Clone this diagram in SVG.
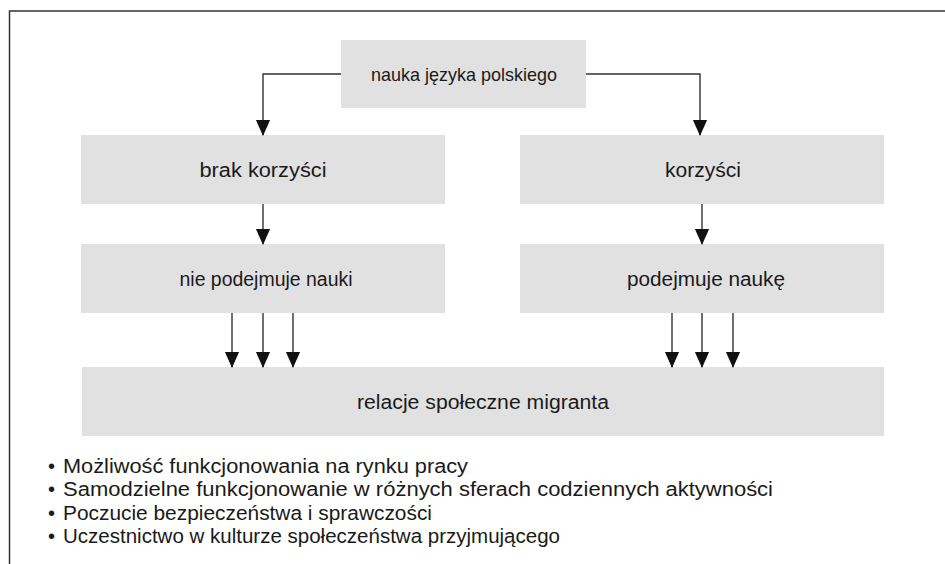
<svg xmlns="http://www.w3.org/2000/svg" width="945" height="564" viewBox="0 0 945 564">
<defs>
<style>
.box{fill:#e1e1e1;}
.t{font-family:"Liberation Sans",Arial,sans-serif;font-size:20px;fill:#1a1a1a;text-anchor:middle;}
.l{font-family:"Liberation Sans",Arial,sans-serif;font-size:20px;fill:#1a1a1a;}
.c{fill:none;stroke:#333;stroke-width:1.4;marker-end:url(#ah);}
</style>
<marker id="ah" markerWidth="16" markerHeight="18" refX="17" refY="8" orient="auto" markerUnits="userSpaceOnUse" viewBox="0 0 18 16">
<path d="M0,0 L18,8 L0,16 Z" fill="#111"/>
</marker>
</defs>
<rect width="945" height="564" fill="#fff"/>
<path d="M9.5,564 V11 H945" fill="none" stroke="#333" stroke-width="1.5"/>
<g id="n-top"><rect class="box" x="341" y="40" width="245" height="68"/><text class="t" x="464" y="81" style="font-size:19px" textLength="186" lengthAdjust="spacingAndGlyphs">nauka języka polskiego</text></g>
<g id="n-brak"><rect class="box" x="81" y="135" width="364" height="69"/><text class="t" x="263" y="177" textLength="127" lengthAdjust="spacingAndGlyphs">brak korzyści</text></g>
<g id="n-korzysci"><rect class="box" x="520" y="135" width="364" height="69"/><text class="t" x="703" y="177" textLength="76" lengthAdjust="spacingAndGlyphs">korzyści</text></g>
<g id="n-nie"><rect class="box" x="81" y="244" width="364" height="69"/><text class="t" x="266" y="286" textLength="173" lengthAdjust="spacingAndGlyphs">nie podejmuje nauki</text></g>
<g id="n-podejmuje"><rect class="box" x="520" y="244" width="364" height="69"/><text class="t" x="706" y="286" textLength="158" lengthAdjust="spacingAndGlyphs">podejmuje naukę</text></g>
<g id="n-relacje"><rect class="box" x="82" y="367" width="802" height="69"/><text class="t" x="483" y="409" textLength="252" lengthAdjust="spacingAndGlyphs">relacje społeczne migranta</text></g>
<g id="connectors">
<path class="c" d="M341,74 H263 V135"/>
<path class="c" d="M586,74 H700 V135"/>
<path class="c" d="M263,204 V244"/>
<path class="c" d="M702,204 V244"/>
<path class="c" d="M232,313 V367"/>
<path class="c" d="M263,313 V367"/>
<path class="c" d="M293,313 V367"/>
<path class="c" d="M672,313 V367"/>
<path class="c" d="M702,313 V367"/>
<path class="c" d="M733,313 V367"/>
</g>
<g id="list">
<text class="l" x="48" y="473">•</text>
<text class="l" x="63" y="473" textLength="405" lengthAdjust="spacingAndGlyphs">Możliwość funkcjonowania na rynku pracy</text>
<text class="l" x="48" y="496">•</text>
<text class="l" x="63" y="496" textLength="710" lengthAdjust="spacingAndGlyphs">Samodzielne funkcjonowanie w różnych sferach codziennych aktywności</text>
<text class="l" x="48" y="520">•</text>
<text class="l" x="63" y="520" textLength="369" lengthAdjust="spacingAndGlyphs">Poczucie bezpieczeństwa i sprawczości</text>
<text class="l" x="48" y="543">•</text>
<text class="l" x="63" y="543" textLength="497" lengthAdjust="spacingAndGlyphs">Uczestnictwo w kulturze społeczeństwa przyjmującego</text>
</g>
</svg>
